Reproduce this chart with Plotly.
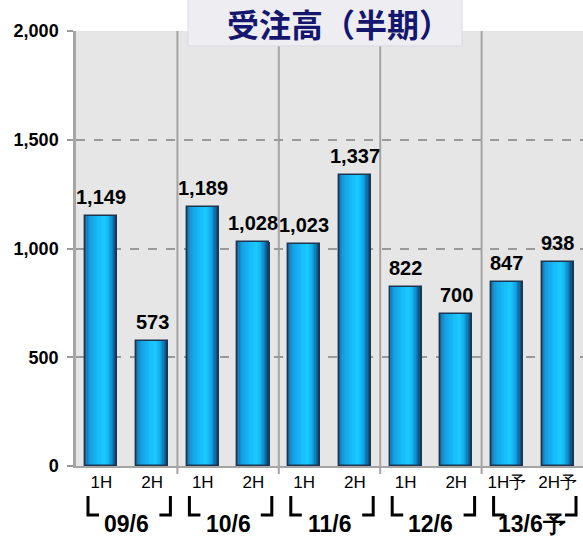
import plotly.graph_objects as go

# ---- data -------------------------------------------------------------
years = ["09/6", "10/6", "11/6", "12/6", "13/6予"]
halves = ["1H", "2H", "1H", "2H", "1H", "2H", "1H", "2H", "1H予", "2H予"]
orders = [1149, 573, 1189, 1028, 1023, 1337, 822, 700, 847, 938]
y_ticks = [0, 500, 1000, 1500, 2000]
title_text = "受注高（半期）"

# ---- layout geometry (pixels) ----------------------------------------
W, H = 583, 538
ML, MR, MT, MB = 76, 0, 31, 72
PW, PH = W - ML - MR, H - MT - MB


def px_x(px):
    return (px - ML) / PW


def px_y(py):
    return (H - MB - py) / PH


def data_to_paper_x(x):
    return (x + 0.5) / len(orders)


xs = list(range(len(orders)))
BAR_W = 0.63
LATIN = "Liberation Sans, Arial, sans-serif"
CJK = "Noto Sans CJK JP, sans-serif"

# cylinder-like shading across each bar, left to right
stops = [
    (0.00, (40, 78, 108)),
    (0.06, (22, 128, 190)),
    (0.16, (22, 160, 226)),
    (0.45, (22, 190, 250)),
    (0.62, (26, 202, 255)),
    (0.76, (18, 172, 236)),
    (0.89, (12, 112, 170)),
    (1.00, (22, 52, 82)),
]


def shade(f):
    for (f0, c0), (f1, c1) in zip(stops, stops[1:]):
        if f0 <= f <= f1:
            t = (f - f0) / (f1 - f0)
            return "rgb(%d,%d,%d)" % tuple(round(a + (b - a) * t) for a, b in zip(c0, c1))
    return "rgb(%d,%d,%d)" % stops[-1][1]


fig = go.Figure()
N = 24
for i in range(N):
    f0, f1 = i / N, (i + 1) / N
    fig.add_trace(go.Bar(
        x=xs, y=orders,
        offset=-BAR_W / 2 + f0 * BAR_W,
        width=(f1 - f0) * BAR_W * 1.05,
        marker=dict(color=shade((f0 + f1) / 2), line=dict(width=0)),
        hoverinfo="skip", showlegend=False,
    ))

# bar outline
fig.add_trace(go.Bar(
    x=xs, y=orders, width=BAR_W,
    marker=dict(color="rgba(0,0,0,0)", line=dict(color="#1d3550", width=1.4)),
    hoverinfo="skip", showlegend=False,
))

shapes = []
# group separators
for g in range(1, len(years)):
    xb = 2 * g - 0.5
    shapes.append(dict(type="line", xref="x", yref="y", x0=xb, x1=xb,
                       y0=0, y1=2000, layer="below",
                       line=dict(color="#a4a4a4", width=2)))
    shapes.append(dict(type="line", xref="paper", yref="paper",
                       x0=data_to_paper_x(xb), x1=data_to_paper_x(xb),
                       y0=px_y(474), y1=0,
                       line=dict(color="#a4a4a4", width=2)))

# brackets under each fiscal period
y_top, y_bot = px_y(496), px_y(515)
hook = 11 / PW
for g in range(len(years)):
    xl = data_to_paper_x(2 * g - 0.5) + 12 / PW
    xr = data_to_paper_x(2 * g + 1.5) - 7 / PW
    shapes.append(dict(type="path", xref="paper", yref="paper",
                       path=f"M {xl},{y_top} L {xl},{y_bot} L {xl + hook},{y_bot}",
                       line=dict(color="black", width=3)))
    shapes.append(dict(type="path", xref="paper", yref="paper",
                       path=f"M {xr},{y_top} L {xr},{y_bot} L {xr - hook},{y_bot}",
                       line=dict(color="black", width=3)))

# title box
shapes.append(dict(type="rect", xref="paper", yref="paper",
                   x0=px_x(188), x1=px_x(462), y0=px_y(46), y1=px_y(-2),
                   fillcolor="#eeeef2", line=dict(color="#dadae2", width=1),
                   layer="above"))

annotations = []
# value labels above each bar
for x, v in zip(xs, orders):
    annotations.append(dict(
        x=x, y=v, xref="x", yref="y", text=f"{v:,}", showarrow=False,
        xanchor="center", yanchor="bottom", yshift=6,
        font=dict(family=LATIN, size=20, color="black", weight="bold"),
    ))
for g, yr in enumerate(years):
    annotations.append(dict(
        x=data_to_paper_x(2 * g + 0.5), y=px_y(524), xref="paper", yref="paper",
        text=yr, showarrow=False, xanchor="center", yanchor="middle",
        font=dict(family=LATIN, size=23, color="black", weight="bold"),
    ))
annotations.append(dict(
    x=px_x(339), y=px_y(23), xref="paper", yref="paper",
    text=title_text, showarrow=False, yanchor="middle", xanchor="center",
    font=dict(family=CJK, size=32, color="#15166e", weight="bold"),
))

fig.update_layout(
    width=W, height=H,
    margin=dict(l=ML, r=MR, t=MT, b=MB, pad=0),
    paper_bgcolor="white", plot_bgcolor="#e6e6e6",
    barmode="overlay", bargap=0,
    shapes=shapes, annotations=annotations,
    xaxis=dict(
        range=[-0.5, len(orders) - 0.5],
        tickmode="array", tickvals=xs, ticktext=halves,
        tickfont=dict(family=LATIN, size=17, color="black"),
        showgrid=False, zeroline=False,
        showline=True, linecolor="#a4a4a4", linewidth=1.5,
        ticks="", fixedrange=True,
    ),
    yaxis=dict(
        range=[0, 2000],
        tickmode="array", tickvals=y_ticks, tickformat=",",
        tickfont=dict(family=LATIN, size=18, color="black", weight="bold"),
        showgrid=True, gridcolor="#9a9a9a", gridwidth=1.5, griddash="dash",
        zeroline=False,
        showline=True, linecolor="#a6a6a6", linewidth=2.5,
        ticks="outside", ticklen=6, tickcolor="#9a9a9a", tickwidth=1.5,
        ticklabelstandoff=5, fixedrange=True,
    ),
)

fig.write_html("out.html")
